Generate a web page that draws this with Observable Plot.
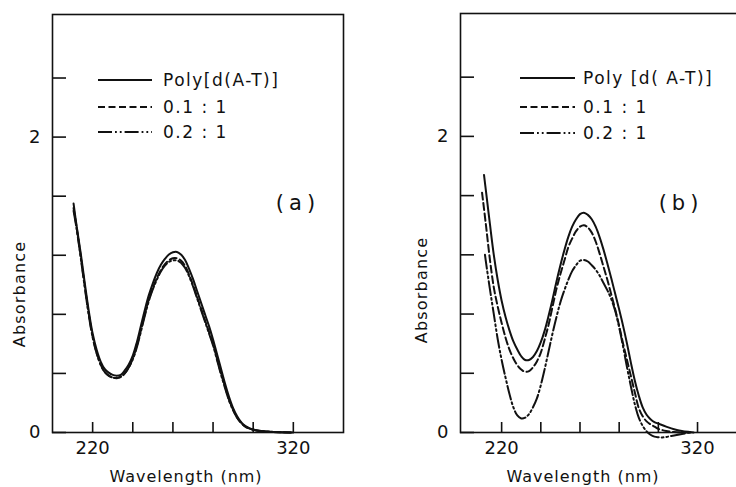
<!DOCTYPE html>
<html><head><meta charset="utf-8">
<script src="https://cdn.jsdelivr.net/npm/d3@7"></script>
<script src="https://cdn.jsdelivr.net/npm/@observablehq/plot@0.6"></script>
<style>
html,body{margin:0;padding:0;background:#fff;overflow:hidden;}
#fig{position:relative;width:736px;height:487px;overflow:hidden;font-family:"DejaVu Sans",sans-serif;color:#111;background:#fff;}
#fig > svg{position:absolute;top:0;}
</style></head><body><div id="fig"></div>
<script>
// ---- data ----
const seriesNamesA = ["Poly[d(A-T)]", "0.1 : 1", "0.2 : 1"];
const seriesNamesB = ["Poly [d( A-T)]", "0.1 : 1", "0.2 : 1"];
const panelLabels = ["(a)", "(b)"];
const xTicks = [220, 240, 260, 280, 300, 320];
const xLabeled = [220, 320];
const yTicks = [0, 0.4, 0.8, 1.2, 1.6, 2.0, 2.4];
const yLabeled = [0, 2];
const xTitle = "Wavelength (nm)";
const yTitle = "Absorbance";

// panel (a)
const nmA = [210.5, 212, 214, 216, 218, 220, 222, 224, 226, 228, 230, 232, 234, 236, 238, 240, 242, 244, 246, 248, 250, 252, 254, 256, 258, 260, 262, 264, 266, 268, 270, 272, 274, 276, 278, 280, 282, 284, 286, 288, 290, 292, 294, 296, 298, 300, 305, 310, 320];
const solidA = [1.55, 1.40, 1.22, 1.02, 0.83, 0.67, 0.56, 0.48, 0.43, 0.405, 0.39, 0.385, 0.39, 0.42, 0.46, 0.52, 0.61, 0.72, 0.83, 0.93, 1.01, 1.08, 1.135, 1.175, 1.205, 1.22, 1.222, 1.205, 1.17, 1.11, 1.04, 0.96, 0.88, 0.80, 0.72, 0.63, 0.53, 0.43, 0.33, 0.24, 0.165, 0.11, 0.07, 0.045, 0.03, 0.02, 0.008, 0.004, 0];
const dashedA = [1.52, 1.39, 1.20, 1.00, 0.81, 0.65, 0.54, 0.46, 0.41, 0.385, 0.372, 0.368, 0.375, 0.40, 0.44, 0.50, 0.585, 0.69, 0.80, 0.90, 0.98, 1.045, 1.10, 1.14, 1.165, 1.18, 1.18, 1.165, 1.13, 1.07, 1.00, 0.92, 0.84, 0.76, 0.68, 0.60, 0.50, 0.40, 0.31, 0.22, 0.155, 0.10, 0.065, 0.04, 0.028, 0.018, 0.008, 0.004, 0];
const dashDotA = [1.50, 1.38, 1.19, 0.99, 0.80, 0.645, 0.535, 0.458, 0.41, 0.385, 0.372, 0.37, 0.378, 0.40, 0.44, 0.495, 0.575, 0.68, 0.79, 0.89, 0.97, 1.035, 1.09, 1.13, 1.155, 1.165, 1.165, 1.15, 1.115, 1.06, 0.99, 0.91, 0.83, 0.75, 0.67, 0.59, 0.49, 0.39, 0.30, 0.215, 0.15, 0.10, 0.065, 0.04, 0.028, 0.018, 0.008, 0.004, 0];

// panel (b)
const nmBSolid = [211, 212, 214, 216, 218, 220, 222, 224, 226, 228, 230, 232, 234, 236, 238, 240, 242, 244, 246, 248, 250, 252, 254, 256, 258, 260, 262, 264, 266, 268, 270, 272, 274, 276, 278, 280, 282, 284, 286, 288, 290, 292, 294, 296, 298, 300, 304, 308, 312, 316, 318];
const solidB = [1.74, 1.63, 1.41, 1.20, 1.03, 0.89, 0.78, 0.69, 0.615, 0.56, 0.515, 0.49, 0.49, 0.51, 0.55, 0.61, 0.69, 0.79, 0.90, 1.02, 1.13, 1.23, 1.32, 1.39, 1.44, 1.475, 1.485, 1.47, 1.44, 1.39, 1.32, 1.235, 1.14, 1.04, 0.935, 0.83, 0.72, 0.60, 0.47, 0.35, 0.25, 0.17, 0.12, 0.09, 0.07, 0.06, 0.04, 0.022, 0.01, 0.003, 0];
const nmBDashed = [210, 212, 214, 216, 218, 220, 222, 224, 226, 228, 230, 232, 234, 236, 238, 240, 242, 244, 246, 248, 250, 252, 254, 256, 258, 260, 262, 264, 266, 268, 270, 272, 274, 276, 278, 280, 282, 284, 286, 288, 290, 292, 294, 296, 298, 300, 304, 308, 312, 316, 318];
const dashedB = [1.62, 1.40, 1.17, 0.98, 0.85, 0.74, 0.64, 0.56, 0.50, 0.455, 0.425, 0.41, 0.415, 0.44, 0.48, 0.54, 0.63, 0.73, 0.85, 0.97, 1.07, 1.16, 1.25, 1.31, 1.36, 1.39, 1.40, 1.385, 1.35, 1.29, 1.21, 1.12, 1.03, 0.93, 0.83, 0.72, 0.60, 0.49, 0.38, 0.27, 0.165, 0.11, 0.075, 0.055, 0.04, 0.025, 0.01, 0.003, 0, 0, 0];
const nmBDot = [211.5, 212, 214, 216, 218, 220, 222, 224, 226, 228, 230, 232, 234, 236, 238, 240, 242, 244, 246, 248, 250, 252, 254, 256, 258, 260, 262, 264, 266, 268, 270, 272, 274, 276, 278, 280, 282, 284, 286, 288, 290, 292, 294, 296, 298, 300, 302, 304, 308, 312, 316];
const dashDotB = [1.20, 1.15, 0.97, 0.80, 0.63, 0.49, 0.37, 0.26, 0.17, 0.115, 0.095, 0.10, 0.125, 0.17, 0.23, 0.32, 0.43, 0.55, 0.67, 0.78, 0.88, 0.96, 1.03, 1.09, 1.13, 1.16, 1.165, 1.155, 1.13, 1.10, 1.06, 1.01, 0.96, 0.90, 0.82, 0.71, 0.58, 0.44, 0.31, 0.19, 0.10, 0.045, 0.008, -0.015, -0.028, -0.032, -0.033, -0.03, -0.02, -0.01, 0];

const dashes = [null, "7,3.5", "14,3,1.8,3,1.8,3"];
const INK = "#111";

function panel({left, width, mLeft, mRight, mTop, xDomain, series}) {
  const p = Plot.plot({
    width, height: 487,
    marginLeft: mLeft, marginRight: mRight, marginTop: mTop, marginBottom: 55,
    x: {domain: xDomain},
    y: {domain: [0, 2.83]},
    style: {fontFamily: "DejaVu Sans, sans-serif", fontSize: "18px", color: INK, background: "transparent", overflow: "visible"},
    marks: [
      Plot.frame({stroke: INK, strokeWidth: 1.6}),
      Plot.axisX(xTicks, {tickSize: -10, tickPadding: 19, strokeWidth: 1.6, tickFormat: d => xLabeled.includes(d) ? String(d) : "", label: null}),
      Plot.axisY(yTicks, {tickSize: -14, tickPadding: 26, strokeWidth: 1.6, tickFormat: d => yLabeled.includes(d) ? String(d) : "", label: null}),
      ...series.map(([nm, ab], i) => Plot.line(ab, {x: nm, y: ab, curve: "catmull-rom", stroke: INK, strokeWidth: 2, strokeDasharray: dashes[i]}))
    ]
  });
  p.style.left = left + "px";
  return p;
}

const fig = document.getElementById("fig");
fig.appendChild(panel({left: 0, width: 368, mLeft: 52, mRight: 25, mTop: 14, xDomain: [200, 345],
  series: [[nmA, solidA], [nmA, dashedA], [nmA, dashDotA]]}));
fig.appendChild(panel({left: 368, width: 390, mLeft: 92, mRight: 12, mTop: 13, xDomain: [199, 345],
  series: [[nmBSolid, solidB], [nmBDashed, dashedB], [nmBDot, dashDotB]]}));

// overlay: titles, panel labels, legends
const ov = d3.select(fig).append("svg").attr("width", 736).attr("height", 487)
  .style("left", "0px").style("font-family", "DejaVu Sans, sans-serif").attr("fill", INK);

const panels = [
  {names: seriesNamesA, lx1: 98, lx2: 152, tx: 163, rows: [80, 107, 132], yT: [25, 294], xT: [186, 482], lab: [298, 202]},
  {names: seriesNamesB, lx1: 520, lx2: 575, tx: 583, rows: [78, 107, 133], yT: [427, 290], xT: [583, 482], lab: [681, 202]}
];
panels.forEach((P, k) => {
  P.names.forEach((name, i) => {
    ov.append("line").attr("x1", P.lx1).attr("x2", P.lx2).attr("y1", P.rows[i]).attr("y2", P.rows[i])
      .attr("stroke", INK).attr("stroke-width", 2).attr("stroke-dasharray", dashes[i]);
    ov.append("text").attr("x", P.tx).attr("y", P.rows[i]).attr("dy", "0.36em")
      .attr("font-size", 17).attr("letter-spacing", 1.5).text(name);
  });
  ov.append("text").attr("transform", `translate(${P.yT[0]},${P.yT[1]}) rotate(-90)`)
    .attr("text-anchor", "middle").attr("font-size", 16).attr("letter-spacing", 1.2).text(yTitle);
  ov.append("text").attr("x", P.xT[0]).attr("y", P.xT[1]).attr("text-anchor", "middle")
    .attr("font-size", 16).attr("letter-spacing", 1).text(xTitle);
  ov.append("text").attr("x", P.lab[0]).attr("y", P.lab[1]).attr("dy", "0.36em").attr("text-anchor", "middle")
    .attr("font-size", 21).attr("letter-spacing", 5).text(panelLabels[k]);
});
</script></body></html>
